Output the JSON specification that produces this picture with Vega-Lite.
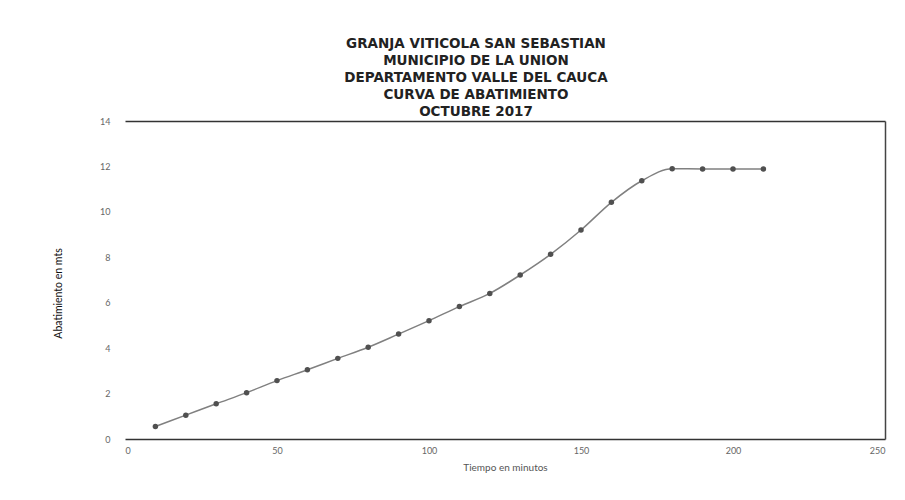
{
  "$schema": "https://vega.github.io/schema/vega-lite/v6.json",
  "autosize": {"type": "none"},
  "width": 760,
  "height": 318,
  "padding": {"left": 125, "top": 121, "right": 20, "bottom": 61},
  "background": "white",
  "title": {
    "text": ["GRANJA VITICOLA SAN SEBASTIAN", "MUNICIPIO DE LA UNION", "DEPARTAMENTO  VALLE DEL CAUCA", "CURVA DE ABATIMIENTO", "OCTUBRE  2017"],
    "font": "DejaVu Sans",
    "fontSize": 13.5,
    "fontWeight": "bold",
    "color": "#222",
    "lineHeight": 17,
    "anchor": "middle",
    "offset": -1,
    "dx": -29
  },
  "data": {
    "values": [
      {"t": 10, "a": 0.55}, {"t": 20, "a": 1.05}, {"t": 30, "a": 1.55}, {"t": 40, "a": 2.04},
      {"t": 50, "a": 2.57}, {"t": 60, "a": 3.05}, {"t": 70, "a": 3.55}, {"t": 80, "a": 4.04},
      {"t": 90, "a": 4.62}, {"t": 100, "a": 5.21}, {"t": 110, "a": 5.83}, {"t": 120, "a": 6.41},
      {"t": 130, "a": 7.22}, {"t": 140, "a": 8.13}, {"t": 150, "a": 9.2}, {"t": 160, "a": 10.42},
      {"t": 170, "a": 11.37}, {"t": 180, "a": 11.9}, {"t": 190, "a": 11.89}, {"t": 200, "a": 11.89},
      {"t": 210, "a": 11.89}
    ]
  },
  "layer": [
    {
      "mark": {"type": "line", "color": "#808080", "strokeWidth": 1.5, "interpolate": "monotone"},
      "encoding": {
        "x": {
          "field": "t", "type": "quantitative",
          "scale": {"domain": [0, 250], "nice": false},
          "axis": {
            "orient": "bottom",
            "title": "Tiempo en minutos", "values": [0, 50, 100, 150, 200, 250],
            "grid": false, "ticks": false, "domain": true, "domainColor": "#333", "domainWidth": 1.5,
            "labelFont": "Lato", "labelFontSize": 9, "labelColor": "#666", "labelPadding": 7,
            "titleFont": "Lato", "titleFontSize": 10, "titleFontWeight": "normal", "titleColor": "#555", "titlePadding": 7
          }
        },
        "y": {
          "field": "a", "type": "quantitative",
          "scale": {"domain": [0, 14], "nice": false},
          "axis": {
            "orient": "left",
            "title": "Abatimiento en mts", "values": [0, 2, 4, 6, 8, 10, 12, 14],
            "grid": false, "ticks": false, "domain": false,
            "labelFont": "Lato", "labelFontSize": 9, "labelColor": "#666", "labelPadding": 15,
            "titleFont": "Lato", "titleFontSize": 10.5, "titleFontWeight": "normal", "titleColor": "#111",
            "titleX": -62, "titleY": 172
          }
        }
      }
    },
    {
      "mark": {"type": "point", "filled": true, "color": "#505050", "size": 30, "opacity": 1},
      "encoding": {
        "x": {
          "field": "t", "type": "quantitative",
          "axis": {"orient": "top", "title": null, "labels": false, "ticks": false, "grid": false, "domain": true, "domainColor": "#333", "domainWidth": 1.5}
        },
        "y": {
          "field": "a", "type": "quantitative",
          "axis": {"orient": "right", "title": null, "labels": false, "ticks": false, "grid": false, "domain": true, "domainColor": "#444", "domainWidth": 1.5}
        }
      }
    }
  ],
  "config": {
    "view": {"stroke": null}
  }
}
